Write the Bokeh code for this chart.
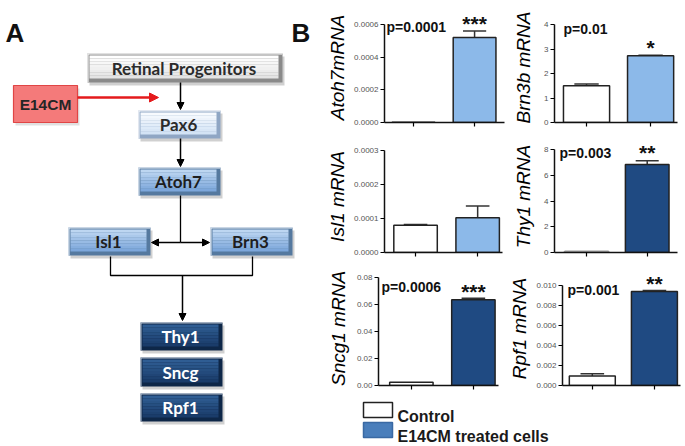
import numpy as np
from bokeh.plotting import figure
from bokeh.layouts import row, column
from bokeh.models import Range1d, FixedTicker, NumeralTickFormatter, Arrow, NormalHead
from bokeh.core.properties import value
from bokeh.embed import file_html
from bokeh.resources import INLINE

# ---------------- data (panel B) ----------------
groups = ["Control", "E14CM treated cells"]
genes = ["Atoh7", "Brn3b", "Isl1", "Thy1", "Sncg1", "Rpf1"]
y_titles = ["Atoh7mRNA", "Brn3b mRNA", "Isl1 mRNA", "Thy1 mRNA", "Sncg1 mRNA", "Rpf1 mRNA"]
control_mean = [0.000002, 1.50, 0.000080, 0.10, 0.0025, 0.00095]
control_err = [0.0, 0.07, 0.000002, 0.0, 0.0, 0.00022]
treated_mean = [0.00052, 2.72, 0.000102, 6.83, 0.0635, 0.0094]
treated_err = [0.00004, 0.02, 0.000035, 0.30, 0.0012, 0.0001]
p_values = ["p=0.0001", "p=0.01", "", "p=0.003", "p=0.0006", "p=0.001"]
stars = ["***", "*", "", "**", "***", "**"]
y_ticks = [[0, 0.0002, 0.0004, 0.0006], [0, 1, 2, 3, 4], [0, 0.0001, 0.0002, 0.0003],
           [0, 2, 4, 6, 8], [0, 0.02, 0.04, 0.06, 0.08], [0, 0.002, 0.004, 0.006, 0.008, 0.010]]
tick_formats = ["0.0000", "0", "0.0000", "0", "0.00", "0.000"]

# ---------------- data (panel A diagram) ----------------
node_labels = ["Retinal Progenitors", "Pax6", "Atoh7", "Isl1", "Brn3", "Thy1", "Sncg", "Rpf1"]
node_kind = ["gray", "pale", "mid", "mid", "mid", "dark", "dark", "dark"]

# ---------------- styles / layout ----------------
LIGHT = "#8CB9E9"
DARK = "#1F4A82"
treated_colors = [LIGHT, LIGHT, LIGHT, DARK, DARK, DARK]
FONT = "Liberation Sans"

frame_h = [110, 110, 112, 112, 114, 114]
top_tick_px = [98, 98, 102, 103, 108, 100]
frame_w = [120, 123, 118, 123, 120, 118]
b_left = [58, 45, 58, 45, 53, 52]
b_right = [5, 9, 7, 9, 8, 9]
b_top = [12, 12, 8, 8, 9, 9]
b_bottom = [10, 10, 10, 10, 10, 10]
x_ranges = [(-0.475, 1.49), (-0.5, 1.42), (-0.5, 1.40), (-0.53, 1.50), (-0.53, 1.405), (-0.48, 1.42)]
bar_w = [0.70, 0.72, 0.70, 0.72, 0.70, 0.74]
p_dx = [2, 9, 0, 5, 3, 5]
p_dy = [2, 4, 0, 3, 9, 4]
star_dy = [-8, -8, 0, -8, -7, -7]
title_standoff = [3, 7, 3, 7, 5, 3]


def bar_chart(i):
    yend = y_ticks[i][-1] * frame_h[i] / top_tick_px[i]
    p = figure(frame_width=frame_w[i], frame_height=frame_h[i], title=None,
               x_range=Range1d(*x_ranges[i]), y_range=Range1d(0, yend),
               output_backend="svg", toolbar_location=None,
               min_border_left=b_left[i], min_border_right=b_right[i],
               min_border_top=b_top[i], min_border_bottom=b_bottom[i])
    p.outline_line_color = None
    p.grid.visible = False
    p.background_fill_color = "white"
    p.border_fill_color = "white"

    xs = [0, 1]
    tops = [control_mean[i], treated_mean[i]]
    errs = [control_err[i], treated_err[i]]
    for x, t, e in zip(xs, tops, errs):
        if e > 0:
            p.segment(x0=[x], y0=[t], x1=[x], y1=[t + e], line_color="#333333", line_width=1.5)
            p.segment(x0=[x - 0.19], y0=[t + e], x1=[x + 0.19], y1=[t + e],
                      line_color="#333333", line_width=1.5)
    line_cols = ["#222222" if i != 3 else "#999999", "#222222"]
    p.vbar(x=xs, top=tops, bottom=0, width=bar_w[i],
           fill_color=["white" if i != 3 else "#DDDDDD", treated_colors[i]],
           line_color=line_cols, line_width=1.5)

    if p_values[i]:
        p.text(x=[x_ranges[i][0]], y=[y_ticks[i][-1]], text=[p_values[i]],
               x_offset=p_dx[i], y_offset=p_dy[i],
               text_font=value(FONT), text_font_style="bold", text_font_size="14px",
               text_color="#111111", text_align="left", text_baseline="middle")
    if stars[i]:
        p.text(x=[1], y=[treated_mean[i] + treated_err[i]], text=[stars[i]],
               y_offset=star_dy[i],
               text_font=value(FONT), text_font_style="bold", text_font_size="21px",
               text_color="#111111", text_align="center", text_baseline="alphabetic")

    ya = p.yaxis[0]
    ya.ticker = FixedTicker(ticks=y_ticks[i])
    ya.bounds = (0, y_ticks[i][-1])
    ya.formatter = NumeralTickFormatter(format=tick_formats[i])
    ya.minor_tick_line_color = None
    ya.major_tick_out = 4
    ya.major_tick_in = 0
    ya.major_tick_line_width = 1.2
    ya.axis_line_width = 1.5
    ya.axis_line_color = "#111111"
    ya.major_label_text_font = FONT
    ya.major_label_text_font_size = "8px"
    ya.major_label_text_color = "#555555"
    ya.major_label_standoff = 2
    ya.axis_label = y_titles[i]
    ya.axis_label_text_font = FONT
    ya.axis_label_text_font_style = "italic"
    ya.axis_label_text_font_size = "19px"
    ya.axis_label_text_color = "#000000"
    ya.axis_label_standoff = title_standoff[i]

    xa = p.xaxis[0]
    xa.ticker = FixedTicker(ticks=[0, 1])
    xa.minor_tick_line_color = None
    xa.major_tick_out = 4
    xa.major_tick_in = 0
    xa.major_tick_line_width = 1.2
    xa.axis_line_width = 1.5
    xa.axis_line_color = "#111111"
    xa.major_label_text_font_size = "1px"
    xa.major_label_text_color = None
    xa.major_label_standoff = 0
    return p


charts = [bar_chart(i) for i in range(6)]

# ---------------- panel A diagram ----------------
A = figure(width=324, height=445, x_range=Range1d(0, 324), y_range=Range1d(445, 0), title=None,
           output_backend="svg", toolbar_location=None, min_border=0)
A.axis.visible = False
A.grid.visible = False
A.outline_line_color = None

node_boxes = [(87, 53, 282, 82), (138, 110, 220, 138), (138, 167, 220, 195),
              (68, 227, 150, 255), (210, 227, 292, 255), (140, 322, 222, 350),
              (140, 357, 222, 386), (140, 393, 222, 421)]
kind_style = {
    "gray": ("#FFFFFF", "#E4E4E4", "#8A8A8A", "#2B2B2B"),
    "pale": ("#F7FAFE", "#D3E3F5", "#8FA6C4", "#2B2B2B"),
    "mid": ("#BDD6F1", "#7DA7DB", "#55799F", "#1E1E1E"),
    "dark": ("#2F5D93", "#1A3C6A", "#0E2748", "#FFFFFF"),
}


def hex2rgb(h):
    return np.array([int(h[k:k + 2], 16) for k in (1, 3, 5)], dtype=float)


def rgb2hex(c):
    return "#%02x%02x%02x" % tuple(int(round(v)) for v in c)


def bevel_box(x0, y0, x1, y1, top_c, bot_c, edge_c, txt, txt_c, font, size):
    A.quad(left=x0 + 2, right=x1 + 2, top=y0 + 3, bottom=y1 + 3,
           fill_color="#777777", fill_alpha=0.35, line_color=None)
    A.quad(left=x0, right=x1, top=y0, bottom=y1, fill_color=edge_c, line_color=None)
    n = 8
    ix0, iy0, ix1, iy1 = x0 + 2, y0 + 2, x1 - 4, y1 - 4
    c0, c1 = hex2rgb(top_c), hex2rgb(bot_c)
    hs = np.linspace(iy0, iy1, n + 1)
    cols = [rgb2hex(c0 + (c1 - c0) * k / (n - 1)) for k in range(n)]
    A.quad(left=[ix0] * n, right=[ix1] * n, top=list(hs[:-1]), bottom=list(hs[1:]),
           fill_color=cols, line_color=None)
    A.segment(x0=[x0 + 0.5, x0 + 0.5], y0=[y0 + 0.5, y0 + 0.5], x1=[x1 - 0.5, x0 + 0.5],
              y1=[y0 + 0.5, y1 - 0.5], line_color=rgb2hex((c0 + 255 * 2) / 3), line_width=1)
    A.text(x=[(ix0 + ix1) / 2], y=[(iy0 + iy1) / 2 + 1], text=[txt], text_font=value(font),
           text_font_style="bold", text_font_size=size, text_color=txt_c,
           text_align="center", text_baseline="middle")


for lab, kind, b in zip(node_labels, node_kind, node_boxes):
    tc, bc, ec, txc = kind_style[kind]
    bevel_box(*b, tc, bc, ec, lab, txc, "Lato", "17px")

# E14CM red box
A.quad(left=15, right=79, top=88, bottom=125, fill_color="#999999", fill_alpha=0.3, line_color=None)
A.quad(left=13, right=77, top=85, bottom=122, fill_color="#F47A7A", line_color="#E04545", line_width=1.2)
A.text(x=[45], y=[104], text=["E14CM"], text_font=value(FONT), text_font_style="bold",
       text_font_size="15.5px", text_color="#262626", text_align="center", text_baseline="middle")


def arr(x0, y0, x1, y1, color="black", lw=1.5, size=7):
    head = NormalHead(size=size, fill_color=color, line_color=color, line_width=1)
    A.add_layout(Arrow(end=head, x_start=x0, y_start=y0, x_end=x1, y_end=y1,
                       line_color=color, line_width=lw))


arr(77, 97, 158, 97, color="#E41A1C", lw=2.5, size=9)
arr(180, 82, 180, 109)
arr(180, 138, 180, 166)
A.line(x=[180, 180], y=[195, 242], line_color="black", line_width=1.3)
arr(180, 242, 151, 242)
arr(180, 242, 209, 242)
A.line(x=[110, 110, 252, 252], y=[256, 275, 275, 256], line_color="black", line_width=1.3)
arr(182, 275, 182, 320)

A.text(x=[5, 291], y=[32, 32], text=["A", "B"], text_font=value(FONT), text_font_style="bold",
       text_font_size="26px", text_color="#111111", text_align="left", text_baseline="alphabetic")

# ---------------- legend ----------------
L = figure(width=360, height=50, x_range=Range1d(324, 684), y_range=Range1d(445, 395), title=None,
           output_backend="svg", toolbar_location=None, min_border=0)
L.axis.visible = False
L.grid.visible = False
L.outline_line_color = None
L.quad(left=[363, 363], right=[392, 392], top=[402, 422], bottom=[417, 437],
       fill_color=["white", "#4A7EBB"], line_color=["#222222", "#3A69A3"], line_width=1.5)
L.text(x=[397, 397], y=[415.5, 435.5], text=groups, text_font=value(FONT), text_font_style="bold",
       text_font_size="16px", text_color="#1A1A1A", text_align="left", text_baseline="alphabetic")

right = column(row(charts[0], charts[1], spacing=0),
               row(charts[2], charts[3], spacing=0),
               row(charts[4], charts[5], spacing=0),
               L, spacing=0)
layout = row(A, right, spacing=0)

open("out.html", "w").write(file_html(layout, INLINE))
